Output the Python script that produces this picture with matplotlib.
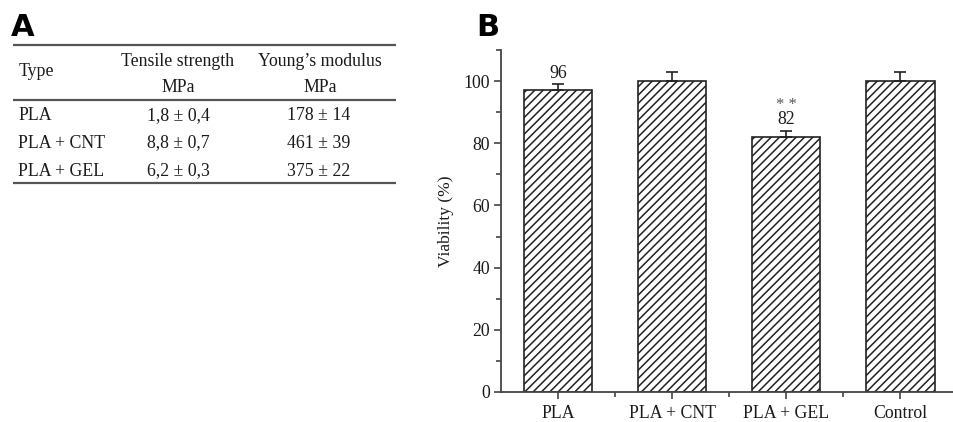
import matplotlib
matplotlib.use("Agg")
import matplotlib.pyplot as plt
from matplotlib.ticker import MultipleLocator, FixedLocator

# table data (panel A)
types = ["PLA", "PLA + CNT", "PLA + GEL"]
tensile = ["1,8 ± 0,4", "8,8 ± 0,7", "6,2 ± 0,3"]
modulus = ["178 ± 14", "461 ± 39", "375 ± 22"]

# bar data (panel B)
groups = ["PLA", "PLA + CNT", "PLA + GEL", "Control"]
viability = [97, 100, 82, 100]
errors = [2, 3, 2, 3]
bar_labels = ["96", "", "82", ""]
signif = ["", "", "* *", ""]

plt.rcParams['font.family'] = ['Liberation Serif', 'DejaVu Serif']
plt.rcParams['hatch.linewidth'] = 1.1

W, H = 954, 422
fig = plt.figure(figsize=(W / 100, H / 100), dpi=100)

# ---- panel A: table drawn in pixel coordinates
ax_t = fig.add_axes([0, 0, 1, 1])
ax_t.set_xlim(0, W)
ax_t.set_ylim(H, 0)
ax_t.axis('off')

ax_t.text(11, 27, "A", fontsize=22, fontweight='heavy', family='DejaVu Sans',
          va='center', ha='left')
ax_t.text(476, 27, "B", fontsize=22, fontweight='heavy', family='DejaVu Sans',
          va='center', ha='left')

line_col = '#555555'
for y in (45, 100, 183):
    ax_t.plot([13, 396], [y, y], color=line_col, lw=1.6, solid_capstyle='butt')

fs = 12.8
txt_col = '#1a1a1a'
ax_t.text(19, 72, "Type", fontsize=fs, va='center', ha='left', color=txt_col)
ax_t.text(178, 61, "Tensile strength", fontsize=fs, va='center', ha='center', color=txt_col)
ax_t.text(178, 88, "MPa", fontsize=fs, va='center', ha='center', color=txt_col)
ax_t.text(320, 61, "Young’s modulus", fontsize=fs, va='center', ha='center', color=txt_col)
ax_t.text(320, 88, "MPa", fontsize=fs, va='center', ha='center', color=txt_col)

row_y = [116, 143, 171]
for t, ts, ym, y in zip(types, tensile, modulus, row_y):
    ax_t.text(18, y, t, fontsize=fs, va='center', ha='left', color=txt_col)
    ax_t.text(178, y, ts, fontsize=fs, va='center', ha='center', color=txt_col)
    ax_t.text(319, y, ym, fontsize=fs, va='center', ha='center', color=txt_col)

# ---- panel B: bar chart
ax = fig.add_axes([501 / W, (H - 392) / H, (W - 501) / W, (392 - 50) / H])
x = list(range(len(groups)))
ax.bar(x, viability, width=0.6, color='white', edgecolor='#222222',
       linewidth=1.2, hatch='////', zorder=2)
ax.errorbar(x, viability, yerr=[[0] * len(errors), errors], fmt='none',
            ecolor='#222222', elinewidth=1.2, capsize=4, capthick=1.2, zorder=3)

for xi, v, e, lab, s in zip(x, viability, errors, bar_labels, signif):
    if lab:
        ax.text(xi, v + e + 3.5, lab, fontsize=fs, ha='center', va='center', color=txt_col)
    if s:
        ax.text(xi, v + e + 7.0, s, fontsize=12, ha='center', va='baseline', color='#555555')

ax.set_xlim(-0.5, 3.47)
ax.set_ylim(0, 110)
ax.set_xticks(x)
ax.set_xticklabels(groups, fontsize=fs, color=txt_col)
ax.xaxis.set_minor_locator(FixedLocator([0.5, 1.5, 2.5]))
ax.yaxis.set_major_locator(FixedLocator([0, 20, 40, 60, 80, 100]))
ax.yaxis.set_minor_locator(MultipleLocator(10))
ax.tick_params(axis='both', which='major', length=5, width=1.2, color='#444444',
               labelsize=fs, labelcolor=txt_col)
ax.tick_params(axis='both', which='minor', length=3.5, width=1.2, color='#444444')
ax.tick_params(axis='x', which='major', pad=4)
ax.tick_params(axis='y', which='major', pad=3)
ax.set_ylabel("Viability (%)", fontsize=12.5, color=txt_col, labelpad=7)

for side in ('top', 'right'):
    ax.spines[side].set_visible(False)
for side in ('left', 'bottom'):
    ax.spines[side].set_linewidth(1.3)
    ax.spines[side].set_color('#444444')

fig.savefig("out.png", dpi=100)
